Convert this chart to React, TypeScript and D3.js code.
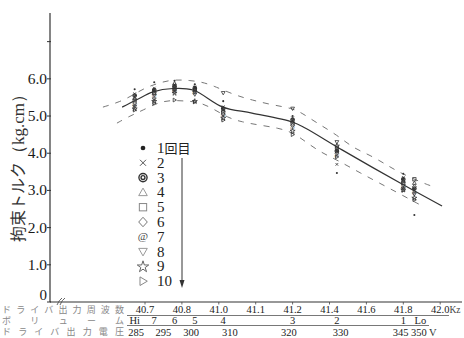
import React from "react";
import * as d3 from "d3";

// ---- data ----
const freqTicks = [40.7, 40.8, 41.0, 41.1, 41.2, 41.4, 41.6, 41.8, 42.0];
const yTicks = [0, 1, 2, 3, 4, 5, 6, 7];
const volumeLabels = ["Hi", "7", "6", "5", "4", "3", "2", "1", "Lo"];
const volumeFreq = [40.672, 40.725, 40.78, 40.87, 41.012, 41.2, 41.44, 41.8, 41.86];
const voltageLabels = ["285", "295", "300", "310", "320", "330", "345", "350"];
const voltageFreq = [40.676, 40.75, 40.85, 41.03, 41.19, 41.46, 41.785, 41.885];
const trialLabels = ["1回目", "2", "3", "4", "5", "6", "7", "8", "9", "10"];
const trialSymbols = ["dot", "x", "dcircle", "tri", "square", "diamond", "at", "tridown", "star", "triright"];

// torque per trial at each volume setting (Hi..Lo)
const trial1 = [5.72, 5.91, 5.95, 5.85, 5.40, 5.00, 3.47, 3.45, 2.34];
const trial2 = [5.60, 5.75, 5.85, 5.78, 5.25, 4.95, 3.70, 3.35, 3.00];
const trial3 = [5.55, 5.70, 5.80, 5.75, 5.20, 4.90, 4.05, 3.30, 3.05];
const trial4 = [5.48, 5.66, 5.88, 5.72, 5.15, 4.85, 4.10, 3.25, 3.20];
const trial5 = [5.42, 5.62, 5.76, 5.70, 5.10, 4.80, 4.15, 3.20, 3.30];
const trial6 = [5.35, 5.58, 5.72, 5.66, 5.05, 4.75, 4.00, 3.15, 3.10];
const trial7 = [5.30, 5.55, 5.68, 5.62, 5.00, 4.70, 3.95, 3.10, 2.95];
const trial8 = [5.25, 5.45, 5.65, 5.58, 5.62, 5.20, 4.30, 3.05, 2.90];
const trial9 = [5.20, 5.40, 5.62, 5.40, 4.95, 4.60, 4.20, 3.02, 2.80];
const trial10 = [5.16, 5.35, 5.43, 5.38, 4.89, 4.50, 3.90, 3.00, 2.75];
const trials = [trial1, trial2, trial3, trial4, trial5, trial6, trial7, trial8, trial9, trial10];

// fitted mean curve and +/- band (frequency, torque)
const meanFreq = [40.638, 40.676, 40.722, 40.776, 40.86, 41.011, 41.09, 41.199, 41.268, 41.468, 41.8, 42.01];
const meanVal = [5.24, 5.43, 5.65, 5.74, 5.70, 5.24, 5.08, 4.84, 4.68, 4.09, 3.15, 2.58];
const upperFreq = [40.586, 40.632, 40.667, 40.7, 40.741, 40.776, 40.844, 40.909, 40.963, 41.044, 41.09, 41.144, 41.199, 41.251, 41.333, 41.441, 41.528, 41.62, 41.712, 41.783, 41.929, 41.973];
const upperVal = [5.24, 5.38, 5.56, 5.76, 5.90, 5.98, 5.96, 5.91, 5.83, 5.56, 5.43, 5.30, 5.21, 5.08, 4.81, 4.49, 4.14, 3.95, 3.68, 3.47, 3.15, 3.09];
const lowerFreq = [40.624, 40.659, 40.695, 40.733, 40.768, 40.828, 40.887, 40.963, 41.025, 41.063, 41.107, 41.161, 41.199, 41.257, 41.349, 41.441, 41.566, 41.712, 41.821, 41.892];
const lowerVal = [4.81, 5.00, 5.16, 5.35, 5.43, 5.40, 5.38, 5.22, 4.95, 4.84, 4.76, 4.68, 4.56, 4.36, 4.03, 3.82, 3.47, 3.09, 2.80, 2.61];

// ---- layout ----
const W = 464, H = 338;
const AX = 50, AY = 302, TOP = 13;
const X0 = 145, XSTEP = 36.9;

const x = d3.scaleLinear().domain(freqTicks).range(freqTicks.map((_, i) => X0 + i * XSTEP));
const y = d3.scaleLinear().domain([0, 7.77]).range([AY, TOP]);

const SERIF = "'Liberation Serif', 'DejaVu Serif', serif";
const JP = "'Noto Sans CJK JP', sans-serif";

function Sym({ kind, cx, cy, s, color }: { kind: string; cx: number; cy: number; s: number; color: string }) {
  const sw = s > 3 ? 1 : 0.8;
  const common = { fill: "none", stroke: color, strokeWidth: sw };
  switch (kind) {
    case "dot":
      return <circle cx={cx} cy={cy} r={s * 0.55} fill={color} />;
    case "x":
      return <path d={`M${cx - s * 0.7},${cy - s * 0.7}L${cx + s * 0.7},${cy + s * 0.7}M${cx - s * 0.7},${cy + s * 0.7}L${cx + s * 0.7},${cy - s * 0.7}`} {...common} />;
    case "dcircle":
      return (
        <g>
          <circle cx={cx} cy={cy} r={s * 0.95} {...common} strokeWidth={sw * 1.4} />
          <circle cx={cx} cy={cy} r={s * 0.45} {...common} strokeWidth={sw * 1.4} />
        </g>
      );
    case "tri":
      return <path d={`M${cx},${cy - s}L${cx + s},${cy + s * 0.75}L${cx - s},${cy + s * 0.75}Z`} {...common} />;
    case "tridown":
      return <path d={`M${cx},${cy + s}L${cx + s},${cy - s * 0.75}L${cx - s},${cy - s * 0.75}Z`} {...common} />;
    case "triright":
      return <path d={`M${cx + s},${cy}L${cx - s * 0.7},${cy - s}L${cx - s * 0.7},${cy + s}Z`} {...common} />;
    case "square":
      return <rect x={cx - s * 0.85} y={cy - s * 0.85} width={s * 1.7} height={s * 1.7} {...common} />;
    case "diamond":
      return <path d={`M${cx},${cy - s * 1.1}L${cx + s},${cy}L${cx},${cy + s * 1.1}L${cx - s},${cy}Z`} {...common} />;
    case "at":
      return (
        <text x={cx} y={cy + s * 0.75} fontSize={s * 2.6} textAnchor="middle" fill={color} fontFamily={SERIF}>
          @
        </text>
      );
    case "star": {
      const p = d3.symbol(d3.symbolStar, s * s * 2.2)() || "";
      return <path d={p} transform={`translate(${cx},${cy + s * 0.1})`} {...common} />;
    }
    default:
      return null;
  }
}

const legendColors = ["#222", "#555", "#333", "#999", "#888", "#777", "#444", "#999", "#666", "#888"];

export default function App() {
  const meanLine = d3.line<number>().x((_, i) => x(meanFreq[i])).y((v) => y(v)).curve(d3.curveCatmullRom.alpha(0.5));
  const upLine = d3.line<number>().x((_, i) => x(upperFreq[i])).y((v) => y(v)).curve(d3.curveBasis);
  const loLine = d3.line<number>().x((_, i) => x(lowerFreq[i])).y((v) => y(v)).curve(d3.curveBasis);

  const LEG_X = 143, LEG_Y0 = 148, LEG_DY = 14.8;
  const NUM = 10.5;

  return (
    <svg width={W} height={H} style={{ position: "absolute", left: 0, top: 0, background: "#fff" }}>
      <rect width={W} height={H} fill="#fff" />
      {/* y axis */}
      <line x1={AX} y1={TOP} x2={AX} y2={AY} stroke="#333" strokeWidth={1.2} />
      {yTicks.map((t) => (
        <g key={t}>
          <line x1={AX - 3} x2={AX + 1} y1={y(t)} y2={y(t)} stroke="#333" strokeWidth={1} />
          {t > 0 && t < 7 && (
            <text x={AX - 3} y={y(t) + 5} textAnchor="end" fontSize={15.5} fontFamily={SERIF} fill="#1a1a1a">
              {t.toFixed(1)}
            </text>
          )}
          {t === 0 && (
            <text x={AX - 3} y={y(t) - 2.5} textAnchor="end" fontSize={15} fontFamily={SERIF} fill="#1a1a1a">
              0
            </text>
          )}
        </g>
      ))}
      {/* y label */}
      <text transform={`translate(24,${164}) rotate(-90)`} textAnchor="middle" fontSize={16} fill="#333" fontFamily={JP}>
        <tspan fontFamily={JP}>拘束トルク</tspan>
        <tspan fontFamily={SERIF} fontSize={17}>（kg.cm）</tspan>
      </text>

      {/* x axis */}
      <line x1={AX} y1={AY} x2={462} y2={AY} stroke="#333" strokeWidth={1.2} />
      <path d={`M${AX + 7},${AY + 3}Q${AX + 9},${AY - 2} ${AX + 12},${AY - 4}M${AX + 10},${AY + 3}Q${AX + 12},${AY - 2} ${AX + 15},${AY - 4}`} fill="none" stroke="#555" strokeWidth={0.9} />
      {freqTicks.map((f) => (
        <g key={f}>
          <line x1={x(f)} x2={x(f)} y1={AY} y2={AY + 2.5} stroke="#444" strokeWidth={0.8} />
          <text x={x(f)} y={313} textAnchor="middle" fontSize={NUM} fontFamily={SERIF} fill="#222">
            {f.toFixed(1)}
          </text>
        </g>
      ))}
      <text x={449.5} y={313} fontSize={9.5} fontFamily={SERIF} fill="#444">Kz</text>
      <line x1={127} x2={449} y1={315.5} y2={315.5} stroke="#555" strokeWidth={0.8} />
      <line x1={127} x2={429} y1={325.5} y2={325.5} stroke="#555" strokeWidth={0.8} />
      {volumeLabels.map((v, i) => (
        <text key={v} x={x(volumeFreq[i]) + (v === "Lo" ? 6 : 0)} y={324} textAnchor="middle" fontSize={NUM} fontFamily={SERIF} fill="#222">
          {v}
        </text>
      ))}
      {voltageLabels.map((v, i) => (
        <text key={v} x={x(voltageFreq[i])} y={335.5} textAnchor="middle" fontSize={NUM} fontFamily={SERIF} fill="#222">
          {v}
        </text>
      ))}
      <text x={429} y={335.5} fontSize={NUM} fontFamily={SERIF} fill="#333">V</text>
      <text x={2} y={312.5} fontSize={9} fontFamily={JP} fill="#888" textLength={122} lengthAdjust="spacing">ドライバ出力周波数</text>
      <text x={2} y={323.5} fontSize={9} fontFamily={JP} fill="#888" textLength={122} lengthAdjust="spacing">ボリューム</text>
      <text x={2} y={334.5} fontSize={9} fontFamily={JP} fill="#888" textLength={122} lengthAdjust="spacing">ドライバ出力電圧</text>

      {/* curves */}
      <path d={upLine(upperVal) || ""} fill="none" stroke="#777" strokeWidth={1} strokeDasharray="6,7" />
      <path d={loLine(lowerVal) || ""} fill="none" stroke="#777" strokeWidth={1} strokeDasharray="6,7" />
      <path d={meanLine(meanVal) || ""} fill="none" stroke="#333" strokeWidth={1.2} />

      {/* points */}
      {trials.map((vals, ti) =>
        vals.map((v, ci) => (
          <Sym key={`${ti}-${ci}`} kind={trialSymbols[ti]} cx={x(volumeFreq[ci])} cy={y(v)} s={1.9} color="#333" />
        ))
      )}

      {/* legend */}
      {trialLabels.map((lab, i) => (
        <g key={lab}>
          <Sym kind={trialSymbols[i]} cx={LEG_X} cy={LEG_Y0 + i * LEG_DY} s={4.3} color={legendColors[i]} />
          <text x={157} y={LEG_Y0 + i * LEG_DY + 5} fontSize={15} fontFamily={SERIF} fill="#222">
            {i === 0 ? (
              <>
                1<tspan fontFamily={JP} fontSize={13}>回目</tspan>
              </>
            ) : (
              lab
            )}
          </text>
        </g>
      ))}
      <line x1={182} x2={182} y1={158} y2={283} stroke="#333" strokeWidth={1} />
      <path d="M179.5,280 L182,288 L184.5,280 Z" fill="#333" />
    </svg>
  );
}
